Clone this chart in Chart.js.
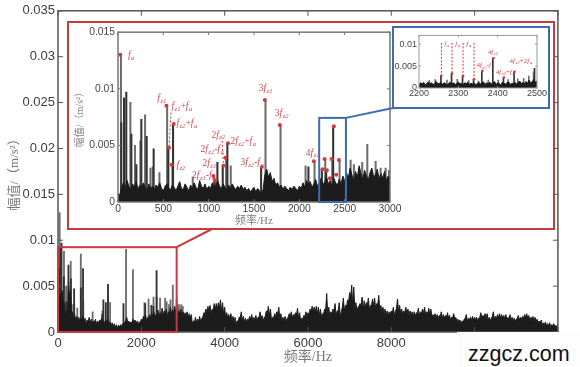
<!DOCTYPE html>
<html>
<head>
<meta charset="utf-8">
<script src="https://cdn.jsdelivr.net/npm/chart.js@4"></script>
<style>
  body { margin: 0; background: #fff; }
  #page { position: relative; width: 580px; height: 367px; overflow: hidden; }
  canvas { position: absolute; }
  .frame { position: absolute; box-sizing: border-box; background: #fff; }
  #redFrame { left: 67px; top: 21px; width: 488px; height: 209px; border: 2px solid #c9393d; }
  #blueFrame { left: 392px; top: 26px; width: 158px; height: 83px; border: 2px solid #3d6cb0; z-index: 3; }
  #mainChart { left: 0; top: 0; }
  #zoomChart { left: 71px; top: 23px; z-index: 2; }
  #detailChart { left: 395px; top: 28px; z-index: 4; }
  #mark {
    position: absolute; left: 457px; top: 332px; width: 123px; height: 35px; z-index: 5;
    background: #fdfdfd; color: #111; font: 21.5px "Liberation Sans", sans-serif;
    line-height: 44px; padding-left: 11px; box-sizing: border-box;
  }
</style>
</head>
<body>
<div id="page">
  <canvas id="mainChart" width="580" height="367"></canvas>
  <div class="frame" id="redFrame"></div>
  <canvas id="zoomChart" width="334" height="205"></canvas>
  <div class="frame" id="blueFrame"></div>
  <canvas id="detailChart" width="152" height="78"></canvas>
  <div id="mark">zzgcz.com</div>
</div>
<script>
// whole spectrum, top of the black band every 50 Hz
const mainStepHz = 50;
const mainAmp = [
  .0025,.0042,.0045,.0030,.0024,.0050,.0046,.0022,.0019,.0017,.0016,.0015,.0017,.0015,.0013,.0016,.0014,.0012,.0014,.0012,
  .0013,.0015,.0012,.0013,.0014,.0011,.0010,.0009,.0008,.0007,.0008,.0009,.0011,.0016,.0012,.0011,.0014,.0013,.0012,.0011,
  .0014,.0017,.0019,.0016,.0019,.0020,.0022,.0019,.0024,.0021,.0026,.0023,.0025,.0022,.0027,.0024,.0028,.0030,
  .0023,.0025,.0022,.0021,.0022,.0020,.0019,.0012,.0016,.0014,.0017,.0015,.0021,.0025,.0028,.0029,.0025,.0031,.0031,.0032,
  .0035,.0032,.0027,.0021,.0019,.0020,.0017,.0016,.0012,.0016,.0022,.0017,.0015,.0014,.0017,.0019,.0016,.0018,.0016,.0022,
  .0018,.0016,.0023,.0028,.0025,.0016,.0020,.0022,.0027,.0020,.0016,.0017,.0015,.0020,.0022,.0019,.0021,.0026,.0021,.0015,
  .0018,.0022,.0021,.0025,.0028,.0027,.0028,.0027,.0025,.0020,.0025,.0042,.0027,.0022,.0025,.0031,.0023,.0032,.0022,.0037,
  .0029,.0035,.0043,.0051,.0049,.0032,.0027,.0031,.0038,.0034,.0032,.0037,.0029,.0036,.0037,.0031,.0040,.0029,.0027,.0025,
  .0023,.0022,.0023,.0027,.0022,.0036,.0029,.0025,.0023,.0027,.0025,.0023,.0022,.0022,.0021,.0026,.0022,.0025,.0027,.0022,
  .0026,.0025,.0019,.0020,.0019,.0018,.0022,.0019,.0018,.0021,.0018,.0016,.0020,.0016,.0014,.0013,.0012,.0014,.0019,.0015,
  .0016,.0017,.0016,.0016,.0015,.0021,.0018,.0020,.0020,.0016,.0015,.0022,.0017,.0019,.0020,.0019,.0018,.0019,.0016,.0019,
  .0016,.0015,.0014,.0018,.0016,.0017,.0019,.0020,.0018,.0016,.0017,.0016,.0014,.0012,.0013,.0010,.0011,.0009,.0010,.0008,
  .0009,.0007,.0009
];
// notches between those tops, 25 Hz after each one
const mainDip = [
  .0016,.0035,.0034,.0016,.0018,.0040,.0020,.0012,.0013,.0012,.0011,.0013,.0010,.0009,.0012,.0010,.0009,.0011,.0008,.0010,
  .0012,.0009,.0010,.0009,.0008,.0007,.0006,.0005,.0005,.0006,.0006,.0008,.0012,.0010,.0009,.0010,.0010,.0009,.0009,.0010,
  .0012,.0014,.0012,.0014,.0015,.0017,.0015,.0018,.0016,.0018,.0018,.0019,.0017,.0020,.0019,.0021,.0022,.0018,
  .0019,.0018,.0017,.0018,.0016,.0015,.0009,.0011,.0010,.0012,.0011,.0016,.0020,.0022,.0022,.0020,.0024,.0025,.0025,.0026,
  .0022,.0019,.0015,.0015,.0014,.0012,.0010,.0009,.0012,.0016,.0012,.0011,.0011,.0013,.0014,.0012,.0013,.0012,.0016,.0014,
  .0012,.0017,.0021,.0018,.0013,.0015,.0017,.0020,.0014,.0013,.0012,.0011,.0016,.0017,.0015,.0017,.0019,.0014,.0012,.0014,
  .0017,.0017,.0019,.0022,.0022,.0021,.0020,.0018,.0016,.0020,.0024,.0018,.0017,.0020,.0023,.0018,.0023,.0017,.0027,.0023,
  .0027,.0033,.0038,.0028,.0024,.0024,.0028,.0029,.0025,.0026,.0029,.0024,.0029,.0028,.0025,.0030,.0022,.0021,.0020,.0018,
  .0018,.0019,.0021,.0018,.0026,.0022,.0020,.0019,.0021,.0020,.0018,.0018,.0017,.0017,.0020,.0018,.0020,.0021,.0018,.0020,
  .0019,.0016,.0016,.0015,.0015,.0017,.0015,.0015,.0016,.0015,.0013,.0016,.0013,.0011,.0010,.0010,.0011,.0015,.0012,.0013,
  .0013,.0013,.0013,.0012,.0016,.0015,.0016,.0015,.0013,.0012,.0017,.0014,.0015,.0016,.0015,.0015,.0015,.0013,.0014,.0013,
  .0012,.0012,.0015,.0013,.0014,.0015,.0016,.0015,.0013,.0014,.0012,.0011,.0010,.0010,.0008,.0008,.0007,.0007,.0006,.0007,
  .0006,.0006
];

// 0-3000 Hz band every 20 Hz
const zoomStepHz = 20;
const zoomAmp = [
  .0008,.0006,.0013,.0017,.0012,.0019,.0014,.0010,.0016,.0013,.0018,.0011,.0015,.0012,.0017,.0013,.0010,.0016,.0012,.0014,
  .0011,.0015,.0013,.0017,.0012,.0010,.0014,.0016,.0012,.0011,.0015,.0013,.0010,.0014,.0018,.0012,.0011,.0016,.0013,.0010,
  .0015,.0012,.0017,.0013,.0011,.0019,.0014,.0012,.0016,.0011,
  .0014,.0012,.0017,.0013,.0015,.0019,.0014,.0012,.0016,.0013,.0011,.0015,.0012,.0016,.0013,.0011,.0014,.0012,.0015,.0011,
  .0013,.0010,.0012,.0009,.0011,.0013,.0009,.0012,.0010,.0008,
  .0011,.0024,.0029,.0022,.0026,.0018,.0021,.0015,.0017,.0013,.0015,.0011,.0014,.0012,.0010,.0013,.0011,.0014,.0012,.0010,
  .0014,.0012,.0017,.0013,.0019,.0015,.0018,.0013,.0016,.0020,.0014,.0017,.0021,.0015,.0018,.0022,.0016,.0019,.0014,.0021,
  .0017,.0015,.0020,.0016,.0023,
  .0018,.0026,.0021,.0030,.0024,.0019,.0027,.0022,.0032,.0025,.0020,.0028,.0023,.0019,.0026,.0030,.0022,.0024,.0029,.0020,
  .0025,.0021,.0027,.0019,.0023,.0020
];

// 2200-2500 Hz band every 4 Hz
const detailStartHz = 2200;
const detailStepHz = 4;
const detailAmp = [
  .0008,.0012,.0009,.0013,.0007,.0011,.0014,.0009,.0012,.0008,.0010,.0015,.0009,.0011,.0013,.0008,.0012,.0010,.0007,.0011,
  .0013,.0009,.0012,.0008,.0010,.0014,.0009,.0011,.0007,.0012,.0010,.0013,.0008,.0011,.0009,.0012,.0007,.0010,.0013,.0009,
  .0011,.0014,.0008,.0012,.0010,.0013,.0009,.0011,.0015,.0008,.0012,.0010,.0007,.0013,.0011,.0009,.0012,.0014,.0008,.0011,
  .0010,.0013,.0009,.0012,.0016,.0010,.0013,.0009,.0015,.0011,.0018,.0012,.0014,.0020,.0013,.0016
];

// discrete peaks
const darkHz  = [44,74,99,155,210,265,324,401,563,615,1075,1104,1163,1214,1586,2108,2256,2304,2381];
const darkAmp = [.0070,.0092,.0097,.0060,.0033,.0073,.0058,.0047,.0048,.0069,.0019,.0035,.0032,.0052,.0031,.0031,.0029,.0028,.0067];
const grayHz  = [25,129,180,239,291,350,375,449,534,592,817,1052,1185,1236,1619,1785,2061,2160,2278,2355,2436,2558,2594,2650,2686,2742,2834,2889,2944,2981];
const grayAmp = [.0130,.0088,.0050,.0054,.0077,.0030,.0031,.0026,.0085,.0033,.0022,.0023,.0039,.0032,.0090,.0068,.0032,.0036,.0038,.0038,.0037,.0037,.0033,.0030,.0035,.0051,.0036,.0030,.0030,.0028];
const detailDarkHz  = [2257,2284,2312,2340,2361,2389,2416,2443,2495];
const detailDarkAmp = [.0028,.0033,.0027,.0020,.0039,.0068,.0024,.0037,.0045];
const detailGrayHz  = [2225,2240,2270,2296,2325,2350,2375,2400,2425,2450,2465,2478,2490];
const detailGrayAmp = [.0017,.0019,.0018,.0020,.0017,.0016,.0018,.0018,.0019,.0021,.0022,.0027,.0037];

// red markers
const zoomMarkHz  = [25,534,563,615,592,1052,1075,1163,1185,1214,1586,1619,1785,2160,2256,2278,2304,2337,2355,2381,2407,2436];
const zoomMarkAmp = [.0130,.0085,.0048,.0069,.0033,.0023,.0019,.0032,.0039,.0052,.0031,.0090,.0068,.0036,.0029,.0038,.0028,.0021,.0038,.0067,.0024,.0037];
const detailMarkHz  = [2257,2284,2312,2340,2361,2389,2416,2443];
const detailMarkAmp = [.0028,.0033,.0027,.0020,.0039,.0068,.0024,.0037];

// red text: [text, Hz, amplitude]
const zoomLabels = [
  ['f_a',110,.0129],['f_z1',434,.0091],['f_z1+f_a',589,.0084],['f_z2+f_a',644,.0069],['f_z2',644,.0032],
  ['2f_z2',1030,.0059],['2f_z2+f_a',1240,.0053],['2f_z2-f_a',909,.0046],['2f_z1',931,.0034],['2f_z1-f_a',817,.0023],
  ['3f_z2-f_a',1350,.0035],['3f_z1',1553,.0100],['3f_z2',1730,.0078],['4f_z1',2072,.0043]
];
const detailLabels = [
  ['f_a',2265,.0100],['f_a',2292,.0100],['f_a',2320,.0100],['4f_z2-f_a',2346,.0051],
  ['4f_z2',2375,.0082],['4f_z2+f_a',2395,.0037],['4f_z2+2f_a',2430,.0062]
];

// dashed guides: [[Hz, Hz], [amp, amp]]
const zoomGuides = [[[585,563],[.0079,.0048]],[[1148,1163],[.0054,.0032]]];
const detailGuides = [
  [[2257,2257],[.0103,.0028]],[[2284,2284],[.0103,.0033]],
  [[2312,2312],[.0103,.0027]],[[2340,2340],[.0103,.0020]]
];

const mainXTicks = [0,2000,4000,6000,8000,10000,12000];
const mainYTicks = [0,.005,.01,.015,.02,.025,.03,.035];
const zoomXTicks = [0,500,1000,1500,2000,2500,3000];
const zoomYTicks = [0,.005,.01,.015];
const detailXTicks = [2200,2300,2400,2500];
const detailYTicks = [0,.005,.01];

const yTitle = '幅值/（m/s²）';
const xTitle = '频率/Hz';
const serif = "'Liberation Serif','Noto Sans CJK SC',serif";
const sans = "'Liberation Sans',Arial,sans-serif";
const red = '#d2383c';

function toPoints(xs, ys) {
  return ys.map((y, i) => ({ x: xs[i], y: y }));
}

function steps(values, start, step) {
  return values.map((_, i) => start + i * step);
}

// tops and notches in frequency order for the whole spectrum
function mainPoints() {
  const pts = [];
  mainAmp.forEach((amp, i) => {
    pts.push({ x: i * mainStepHz, y: amp });
    if (i < mainDip.length && i < mainAmp.length - 1) {
      pts.push({ x: i * mainStepHz + mainStepHz / 2, y: mainDip[i] });
    }
  });
  return pts;
}

// f_a style labels, the part after _ is drawn lowered and smaller
function drawLabel(ctx, text, x, y, size) {
  const parts = text.match(/f_[a-z0-9]+|[^f]+/g);
  ctx.textAlign = 'left';
  ctx.textBaseline = 'middle';
  parts.forEach(part => {
    if (part.startsWith('f_')) {
      ctx.font = 'italic ' + size + 'px ' + serif;
      ctx.fillText('f', x, y);
      x += ctx.measureText('f').width + 0.5;
      ctx.font = 'italic ' + (size * 0.7) + 'px ' + serif;
      ctx.fillText(part.slice(2), x, y + size * 0.25);
      x += ctx.measureText(part.slice(2)).width;
    } else {
      ctx.font = size + 'px ' + serif;
      ctx.fillText(part, x, y);
      x += ctx.measureText(part).width;
    }
  });
}

// box around the plot with inward ticks on all four sides, plus zoom box and labels
const framePlugin = {
  id: 'frame',
  afterDraw(chart, args, o) {
    const { ctx, chartArea: a, scales } = chart;
    ctx.save();
    ctx.strokeStyle = o.color;
    ctx.lineWidth = o.width;
    ctx.strokeRect(a.left, a.top, a.right - a.left, a.bottom - a.top);
    ctx.lineWidth = 1;
    ctx.beginPath();
    scales.x.ticks.forEach(t => {
      const px = scales.x.getPixelForValue(t.value);
      ctx.moveTo(px, a.bottom); ctx.lineTo(px, a.bottom - o.tick);
      ctx.moveTo(px, a.top); ctx.lineTo(px, a.top + o.tick);
    });
    scales.y.ticks.forEach(t => {
      const py = scales.y.getPixelForValue(t.value);
      ctx.moveTo(a.left, py); ctx.lineTo(a.left + o.tick, py);
      ctx.moveTo(a.right, py); ctx.lineTo(a.right - o.tick, py);
    });
    ctx.stroke();

    if (o.box) {
      const left = scales.x.getPixelForValue(o.box.x[0]);
      const right = scales.x.getPixelForValue(o.box.x[1]);
      const top = scales.y.getPixelForValue(o.box.y);
      const bottom = scales.y.getPixelForValue(0);
      ctx.strokeStyle = o.box.color;
      ctx.lineWidth = 2;
      ctx.strokeRect(left, top, right - left, bottom - top);
      ctx.beginPath();
      ctx.moveTo(right, top);
      ctx.lineTo(o.box.to[0], o.box.to[1]);
      ctx.stroke();
    }

    ctx.fillStyle = '#cf4a4c';
    (o.labels || []).forEach(l => {
      drawLabel(ctx, l[0], scales.x.getPixelForValue(l[1]), scales.y.getPixelForValue(l[2]), o.labelSize);
    });
    ctx.restore();
  }
};

function spectrumChart(id, s) {
  const datasets = [
    { type: 'line', data: s.band, borderColor: '#1d1c1c', backgroundColor: '#1d1c1c',
      borderWidth: 1, fill: 'origin', pointRadius: 0, tension: 0, order: 3 },
    { type: 'bar', data: toPoints(s.grayHz, s.grayAmp), backgroundColor: '#6e6e6e', barThickness: s.bar, order: 5 },
    { type: 'bar', data: toPoints(s.darkHz, s.darkAmp), backgroundColor: '#333', barThickness: s.bar, order: 4 }
  ];
  (s.guides || []).forEach(g => {
    datasets.push({ type: 'line', data: toPoints(g[0], g[1]), borderColor: red, borderWidth: 1,
      borderDash: s.dash, pointRadius: 0, order: 2 });
  });
  if (s.markHz) {
    datasets.push({ type: 'line', data: toPoints(s.markHz, s.markAmp), showLine: false, pointRadius: s.dot,
      pointBackgroundColor: red, pointBorderWidth: 0, order: 1 });
  }
  new Chart(document.getElementById(id), {
    data: { datasets: datasets },
    plugins: [framePlugin],
    options: {
      responsive: false,
      animation: false,
      layout: { autoPadding: false, padding: s.padding },
      plugins: {
        legend: { display: false },
        tooltip: { enabled: false },
        frame: { color: s.frame, width: s.frameWidth, tick: s.tick, box: s.box, labels: s.labels, labelSize: s.labelSize }
      },
      scales: {
        x: {
          type: 'linear', offset: false, min: s.xMin, max: s.xMax,
          afterBuildTicks: scale => { scale.ticks = s.xTicks.map(v => ({ value: v })); },
          afterFit: scale => { scale.height = s.xHeight; },
          grid: { display: false, drawTicks: false },
          border: { display: false },
          ticks: { maxRotation: 0, autoSkip: false, padding: s.xPad, color: s.tickColor,
            font: { family: sans, size: s.tickSize }, callback: v => String(v) },
          title: s.xTitle ? { display: true, text: xTitle, color: s.titleColor, padding: { top: 0, bottom: s.xTitlePad },
            font: { family: serif, size: s.titleSize } } : { display: false }
        },
        y: {
          type: 'linear', min: 0, max: s.yMax,
          afterBuildTicks: scale => { scale.ticks = s.yTicks.map(v => ({ value: v })); },
          afterFit: scale => { scale.width = s.yWidth; },
          grid: { display: false, drawTicks: false },
          border: { display: false },
          ticks: { padding: s.yPad, color: s.tickColor, font: { family: sans, size: s.tickSize },
            callback: v => String(+v.toFixed(3)) },
          title: s.yTitle ? { display: true, text: yTitle, color: s.titleColor, padding: { top: s.yTitlePad, bottom: 0 },
            font: { family: serif, size: s.titleSize - 1 } } : { display: false }
        }
      }
    }
  });
}

spectrumChart('mainChart', {
  band: mainPoints(),
  grayHz, grayAmp, darkHz, darkAmp, bar: 1.2,
  xMin: 0, xMax: 12000, yMax: .035, xTicks: mainXTicks, yTicks: mainYTicks,
  padding: { top: 9, right: 20, left: 0, bottom: 0 }, xHeight: 35, yWidth: 58,
  xPad: 4, yPad: 3, tickColor: '#3c3c3c', tickSize: 13, titleColor: '#7a7a7a', titleSize: 14,
  xTitle: true, yTitle: true, xTitlePad: 1, yTitlePad: 7,
  frame: '#555', frameWidth: 1.5, tick: 5,
  box: { x: [0, 2848], y: .00924, color: '#c9393d', to: [212, 229] }
});

spectrumChart('zoomChart', {
  band: toPoints(steps(zoomAmp, 0, zoomStepHz), zoomAmp),
  grayHz, grayAmp, darkHz, darkAmp, bar: 1.4,
  markHz: zoomMarkHz, markAmp: zoomMarkAmp, dot: 2, guides: zoomGuides, dash: [2, 2],
  xMin: 0, xMax: 3000, yMax: .015, xTicks: zoomXTicks, yTicks: zoomYTicks,
  padding: { top: 7, right: 15, left: 0, bottom: 0 }, xHeight: 26, yWidth: 47,
  xPad: 1, yPad: 3, tickColor: '#444', tickSize: 10.3, titleColor: '#808080', titleSize: 11,
  xTitle: true, yTitle: true, xTitlePad: 0, yTitlePad: 3,
  frame: '#777', frameWidth: 1.5, tick: 3,
  box: { x: [2219, 2514], y: .00743, color: '#3d6cb0', to: [322, 85] },
  labels: zoomLabels, labelSize: 9.5
});

spectrumChart('detailChart', {
  band: toPoints(steps(detailAmp, detailStartHz, detailStepHz), detailAmp),
  grayHz: detailGrayHz, grayAmp: detailGrayAmp, darkHz: detailDarkHz, darkAmp: detailDarkAmp, bar: 1,
  markHz: detailMarkHz, markAmp: detailMarkAmp, dot: 1.3, guides: detailGuides, dash: [2, 1.5],
  xMin: 2200, xMax: 2500, yMax: .012, xTicks: detailXTicks, yTicks: detailYTicks,
  padding: { top: 1, right: 10, left: 0, bottom: 0 }, xHeight: 18, yWidth: 24,
  xPad: 0, yPad: 2, tickColor: '#444', tickSize: 9,
  frame: '#999', frameWidth: 1, tick: 2,
  labels: detailLabels, labelSize: 7
});
</script>
</body>
</html>
